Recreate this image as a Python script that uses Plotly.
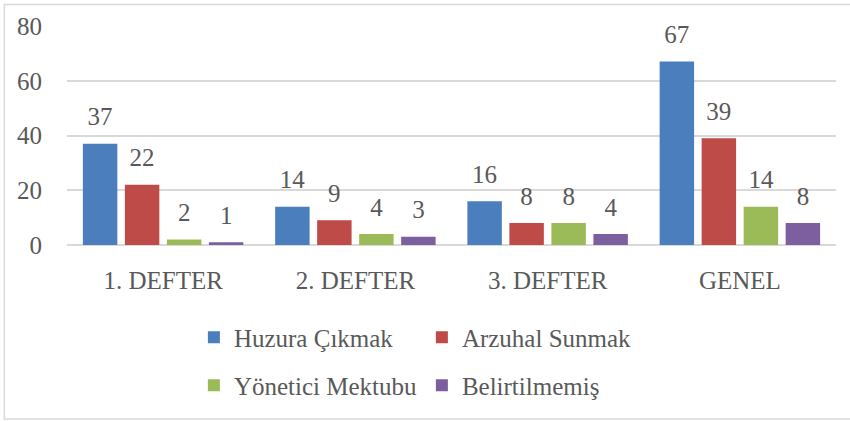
import plotly.graph_objects as go

categories = ["1. DEFTER", "2. DEFTER", "3. DEFTER", "GENEL"]
series_names = ["Huzura Çıkmak", "Arzuhal Sunmak", "Yönetici Mektubu", "Belirtilmemiş"]
huzura = [37, 14, 16, 67]
arzuhal = [22, 9, 8, 39]
yonetici = [2, 4, 8, 14]
belirtilmemis = [1, 3, 4, 8]
y_ticks = [0, 20, 40, 60, 80]

colors = ["#4A7EBC", "#BE4B48", "#9BBB59", "#7D5FA0"]
legends = ["legend", "legend", "legend2", "legend2"]
values = [huzura, arzuhal, yonetici, belirtilmemis]

FONT = "Liberation Serif"
GREY = "#595959"
FS = 25

fig = go.Figure()
for name, vals, col, lg in zip(series_names, values, colors, legends):
    fig.add_trace(go.Bar(
        x=categories, y=vals, name=name, legend=lg,
        marker=dict(color=col, line=dict(width=0)),
    ))
# data labels, grouped to sit over the bars
for name, vals in zip(series_names, values):
    fig.add_trace(go.Scatter(
        x=categories, y=vals, name=name, showlegend=False, hoverinfo="skip",
        mode="markers+text", text=vals, textposition="top center",
        marker=dict(size=18, opacity=0), cliponaxis=False,
        textfont=dict(family=FONT, size=FS, color=GREY),
    ))

legend_common = dict(
    orientation="h", xanchor="left", yanchor="middle",
    font=dict(family=FONT, size=FS, color=GREY),
    entrywidth=183, entrywidthmode="pixels",
    bgcolor="rgba(0,0,0,0)", borderwidth=0, traceorder="normal",
)

fig.update_layout(
    width=850, height=421,
    margin=dict(l=67, r=14, t=26, b=176),
    paper_bgcolor="white", plot_bgcolor="white",
    bargap=0.126, bargroupgap=0.18,
    scattermode="group", scattergap=0.126,
    font=dict(family=FONT, size=FS, color=GREY),
    legend=dict(x=0.165, y=-0.422, **legend_common),
    legend2=dict(x=0.165, y=-0.642, **legend_common),
    showlegend=True,
    yaxis=dict(range=[0, 80], tickvals=y_ticks, showgrid=True, gridcolor="#D9D9D9",
               gridwidth=1.5, zeroline=True, zerolinecolor="#D9D9D9", zerolinewidth=1.5,
               showline=False, ticks="", ticklabelstandoff=24,
               tickfont=dict(family=FONT, size=FS, color=GREY)),
    xaxis=dict(showline=False, ticks="", ticklabelstandoff=18,
               tickfont=dict(family=FONT, size=FS, color=GREY)),
    shapes=[dict(type="rect", xref="paper", yref="paper",
                 x0=-0.0815, x1=1.04, y0=-0.795, y1=1.098,
                 line=dict(color="#D9D9D9", width=1.5), fillcolor="rgba(0,0,0,0)", layer="below")],
)

fig.write_html("out.html", config={"displayModeBar": False},
               post_script="document.body.style.margin='0';document.body.style.overflow='hidden';")
